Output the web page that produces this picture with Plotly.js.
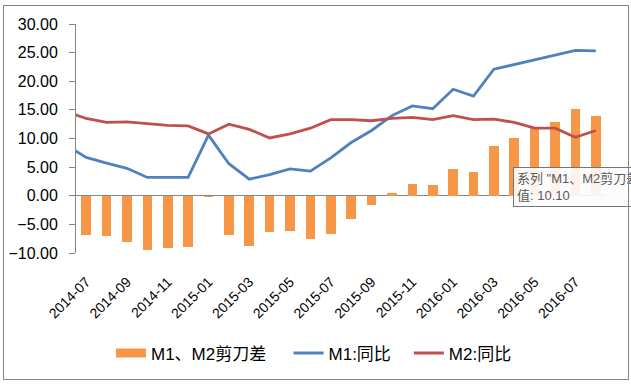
<!DOCTYPE html>
<html>
<head>
<meta charset="utf-8">
<script src="https://cdn.plot.ly/plotly-3.0.1.min.js"></script>
<style>
  html, body { margin: 0; padding: 0; background: #fff; }
  #wrap { position: relative; width: 631px; height: 384px; overflow: hidden; }
  #chart { position: absolute; left: 0; top: 0; width: 631px; height: 384px; }
  #frame { position: absolute; left: 3px; top: 5px; width: 624px; height: 373px;
           border: 1px solid #868686; pointer-events: none; }
</style>
</head>
<body>
<div id="wrap"><div id="chart"></div><div id="frame"></div></div>
<script>
// Months for the line series (the first month lies just outside the visible axis range)
var lineMonths = ['2014-06','2014-07','2014-08','2014-09','2014-10','2014-11','2014-12',
  '2015-01','2015-02','2015-03','2015-04','2015-05','2015-06','2015-07','2015-08','2015-09',
  '2015-10','2015-11','2015-12','2016-01','2016-02','2016-03','2016-04','2016-05','2016-06',
  '2016-07','2016-08'];
// Months for the bars
var barMonths = ['2014-07','2014-08','2014-09','2014-10','2014-11','2014-12',
  '2015-01','2015-02','2015-03','2015-04','2015-05','2015-06','2015-07','2015-08','2015-09',
  '2015-10','2015-11','2015-12','2016-01','2016-02','2016-03','2016-04','2016-05','2016-06',
  '2016-07','2016-08'];
// Tick labels shown on the category axis
var tickLabels = ['2014-07','2014-09','2014-11','2015-01','2015-03','2015-05','2015-07',
  '2015-09','2015-11','2016-01','2016-03','2016-05','2016-07'];

var m1YoY = [8.9, 6.7, 5.7, 4.8, 3.2, 3.2, 3.2, 10.6, 5.6, 2.9, 3.7, 4.7, 4.3, 6.6, 9.3, 11.4,
  14.0, 15.7, 15.2, 18.6, 17.4, 22.1, 22.9, 23.7, 24.6, 25.4, 25.3];
var m2YoY = [14.7, 13.5, 12.8, 12.9, 12.6, 12.3, 12.2, 10.8, 12.5, 11.6, 10.1, 10.8, 11.8, 13.3,
  13.3, 13.1, 13.5, 13.7, 13.3, 14.0, 13.3, 13.4, 12.8, 11.8, 11.8, 10.2, 11.4];
var scissorGap = [-6.8, -7.1, -8.1, -9.4, -9.1, -9.0, -0.2, -6.9, -8.7, -6.4, -6.1, -7.5, -6.7,
  -4.0, -1.7, 0.5, 2.0, 1.9, 4.6, 4.1, 8.7, 10.1, 11.9, 12.8, 15.2, 13.9];

var seriesNames = ['M1、M2剪刀差', 'M1:同比', 'M2:同比'];
var tipMonth = '2016-04';

var ORANGE = '#F79646', BLUE = '#4F81BD', RED = '#C0504D', AXIS = '#868686';
var FONT = '"Liberation Sans", Arial, "Noto Sans CJK SC", sans-serif';

var tipIdx = barMonths.indexOf(tipMonth);

var traces = [
  { type: 'bar', x: barMonths, y: scissorGap, name: seriesNames[0], showlegend: false,
    marker: { color: ORANGE }, width: 0.47, hoverinfo: 'skip' },
  { type: 'scatter', mode: 'lines', x: [null], y: [null], name: seriesNames[0],
    line: { color: ORANGE, width: 9 }, hoverinfo: 'skip', legend: 'legend' },
  { type: 'scatter', mode: 'lines', x: lineMonths, y: m1YoY, name: seriesNames[1],
    line: { color: BLUE, width: 2.8 }, hoverinfo: 'skip', legend: 'legend2' },
  { type: 'scatter', mode: 'lines', x: lineMonths, y: m2YoY, name: seriesNames[2],
    line: { color: RED, width: 2.8 }, hoverinfo: 'skip', legend: 'legend3' }
];

var nCat = lineMonths.length;
var bounds = [];
for (var b = 0.5; b <= nCat - 0.5; b += 2) bounds.push(b);

function legendAt(xp) {
  return {
    orientation: 'h', x: xp, xanchor: 'left', y: -0.36, yanchor: 'top',
    font: { size: 17, family: FONT, color: '#000' }, bgcolor: 'rgba(0,0,0,0)',
    itemclick: false
  };
}

var tipText = '系列 "' + seriesNames[0] + '" 点 "' + tipMonth + '"<br>值: ' + scissorGap[tipIdx].toFixed(2);

var layout = {
  width: 631, height: 384,
  margin: { l: 76, r: 25, t: 24, b: 125 },
  paper_bgcolor: '#fff', plot_bgcolor: 'rgba(0,0,0,0)',
  font: { family: FONT, color: '#000', size: 15 },
  showlegend: true,
  bargap: 0,
  xaxis: {
    type: 'category', categoryorder: 'array', categoryarray: lineMonths,
    range: [0.5, nCat - 0.5],
    tickmode: 'array', tickvals: tickLabels, ticktext: tickLabels,
    tickangle: -45, ticks: '', showline: false, showgrid: false, zeroline: false,
    tickfont: { size: 14, family: FONT, color: '#000' }, ticklabelstandoff: 17
  },
  xaxis2: {
    overlaying: 'x', anchor: 'free', position: 0.25, type: 'linear',
    range: [0.5, nCat - 0.5], tickmode: 'array', tickvals: bounds,
    ticks: 'outside', ticklen: 6, tickcolor: AXIS, tickwidth: 1,
    showticklabels: false, showgrid: false, zeroline: false, showline: false
  },
  yaxis: {
    range: [-10, 30], dtick: 5, tick0: 0, tickformat: '.2f',
    showgrid: false, zeroline: true, zerolinecolor: AXIS, zerolinewidth: 1,
    showline: true, linecolor: AXIS, linewidth: 1,
    ticks: 'outside', ticklen: 6, tickcolor: AXIS,
    tickfont: { size: 16, family: FONT, color: '#000' }, ticklabelstandoff: 8
  },
  legend: legendAt(0.066),
  legend2: legendAt(0.401),
  legend3: legendAt(0.628),
  shapes: [{
    type: 'rect', xref: 'paper', yref: 'paper', x0: 0.830, x1: 1.2, y0: 0.204, y1: 0.362,
    fillcolor: 'rgba(0,0,0,0.12)', line: { width: 0 }
  }],
  annotations: [{
    xref: 'paper', yref: 'paper', x: 0.8245, y: 0.3745, xanchor: 'left', yanchor: 'top',
    align: 'left', showarrow: false,
    text: tipText,
    font: { size: 13, family: FONT, color: '#595959' },
    bgcolor: 'rgba(255,255,255,0.9)', bordercolor: '#767676', borderwidth: 1, borderpad: 3
  }]
};

Plotly.newPlot('chart', traces, layout, { staticPlot: true, displayModeBar: false });
</script>
</body>
</html>
